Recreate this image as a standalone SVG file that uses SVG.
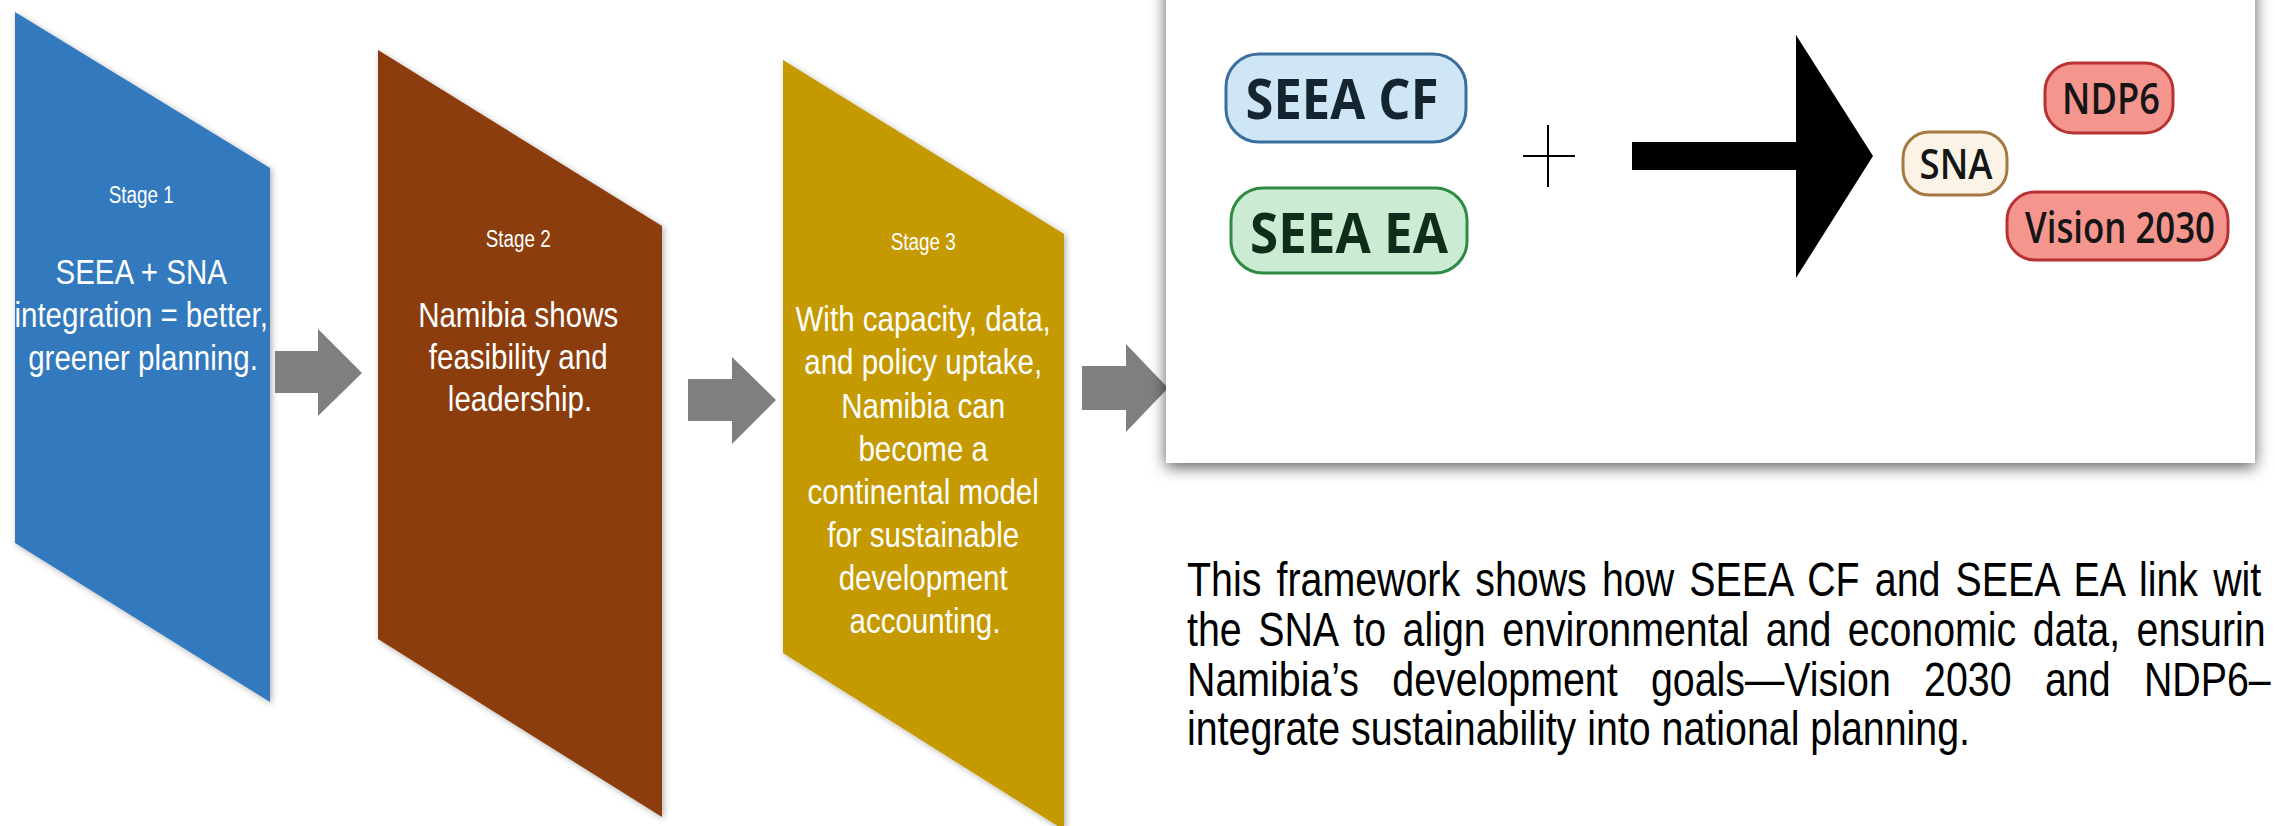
<svg xmlns="http://www.w3.org/2000/svg" width="2275" height="826" viewBox="0 0 2275 826">
  <defs>
    <filter id="stageShadow" x="-10%" y="-10%" width="120%" height="120%">
      <feDropShadow dx="2" dy="2" stdDeviation="3" flood-color="#000" flood-opacity="0.3"/>
    </filter>
    <filter id="boxShadow" x="-5%" y="-10%" width="110%" height="125%">
      <feDropShadow dx="0" dy="4" stdDeviation="8" flood-color="#000" flood-opacity="0.65"/>
    </filter>
    <style>
      .stxt { font-family: "Liberation Sans", Arial, sans-serif; fill: #ffffff; text-anchor: middle; }
      .lbl { font-size: 23px; }
      .body { font-size: 36px; }
      .pill-t { font-family: "Open Sans", "Liberation Sans", sans-serif; text-anchor: middle; }
      .para { font-family: "Liberation Sans", Arial, sans-serif; font-size: 48px; fill: #000000; }
      .garrow { fill: #7f7f7f; }
    </style>
  </defs>
  <rect x="0" y="0" width="2275" height="826" fill="#ffffff"/>

  <g id="stage1">
    <polygon points="15,12 270,168 270,702 15,543" fill="#3179bd" filter="url(#stageShadow)"/>
    <text class="stxt" transform="translate(143,0) scale(0.82,1)">
      <tspan class="lbl" x="0" y="203">Stage 1</tspan>
      <tspan class="body" x="0" y="284">SEEA + SNA</tspan>
      <tspan class="body" x="0" y="327">integration = better,</tspan>
      <tspan class="body" x="0" y="370">greener planning.</tspan>
    </text>
  </g>

  <g id="stage2">
    <polygon points="378,50 662,226 662,817 378,639" fill="#8b3d0d" filter="url(#stageShadow)"/>
    <text class="stxt" transform="translate(520,0) scale(0.82,1)">
      <tspan class="lbl" x="0" y="247">Stage 2</tspan>
      <tspan class="body" x="0" y="327">Namibia shows</tspan>
      <tspan class="body" x="0" y="369">feasibility and</tspan>
      <tspan class="body" x="0" y="411">leadership.</tspan>
    </text>
  </g>

  <g id="stage3">
    <polygon points="783,60 1064,234 1064,830 783,653" fill="#c59a00" filter="url(#stageShadow)"/>
    <text class="stxt" transform="translate(925,0) scale(0.82,1)">
      <tspan class="lbl" x="0" y="250">Stage 3</tspan>
      <tspan class="body" x="0" y="331">With capacity, data,</tspan>
      <tspan class="body" x="0" y="374">and policy uptake,</tspan>
      <tspan class="body" x="0" y="418">Namibia can</tspan>
      <tspan class="body" x="0" y="461">become a</tspan>
      <tspan class="body" x="0" y="504">continental model</tspan>
      <tspan class="body" x="0" y="547">for sustainable</tspan>
      <tspan class="body" x="0" y="590">development</tspan>
      <tspan class="body" x="0" y="633">accounting.</tspan>
    </text>
  </g>

  <g id="connectors">
    <polygon class="garrow" points="275,351 318,351 318,329 362,373 318,416 318,393 275,393"/>
    <polygon class="garrow" points="688,379 732,379 732,357 776,400 732,444 732,421 688,421"/>
    <polygon class="garrow" points="1082,366 1126,366 1126,344 1168,388 1126,432 1126,410 1082,410"/>
  </g>

  <g id="framework-picture">
    <rect x="1166" y="-20" width="1089" height="483" fill="#ffffff" filter="url(#boxShadow)"/>

    <g id="seea-cf">
      <rect x="1226" y="54" width="240" height="88" rx="33" fill="#cfe6f7" stroke="#3b6e9c" stroke-width="3"/>
      <text class="pill-t" x="1342" y="119" font-size="56" font-weight="700" fill="#152530" textLength="193" lengthAdjust="spacingAndGlyphs">SEEA CF</text>
    </g>
    <g id="seea-ea">
      <rect x="1231" y="188" width="236" height="85" rx="32" fill="#cbecd3" stroke="#2f8a44" stroke-width="3"/>
      <text class="pill-t" x="1349" y="253" font-size="56" font-weight="700" fill="#0f2d1a" textLength="198" lengthAdjust="spacingAndGlyphs">SEEA EA</text>
    </g>

    <g id="plus">
      <line x1="1523" y1="156" x2="1575" y2="156" stroke="#000" stroke-width="2"/>
      <line x1="1548" y1="125" x2="1548" y2="187" stroke="#000" stroke-width="2"/>
    </g>

    <g id="big-arrow">
      <polygon points="1632,142 1796,142 1796,35 1873,156 1796,278 1796,170 1632,170" fill="#000000"/>
    </g>

    <g id="sna">
      <rect x="1903" y="132" width="104" height="63" rx="26" fill="#fbf4e6" stroke="#a57942" stroke-width="3"/>
      <text class="pill-t" x="1956" y="179" font-size="41" font-weight="600" fill="#151515" textLength="73" lengthAdjust="spacingAndGlyphs">SNA</text>
    </g>
    <g id="ndp6">
      <rect x="2045" y="63" width="128" height="70" rx="28" fill="#f4968e" stroke="#b83232" stroke-width="3"/>
      <text class="pill-t" x="2111" y="114" font-size="43" font-weight="600" fill="#151515" textLength="98" lengthAdjust="spacingAndGlyphs">NDP6</text>
    </g>
    <g id="vision2030">
      <rect x="2007" y="192" width="221" height="68" rx="28" fill="#f4968e" stroke="#b83232" stroke-width="3"/>
      <text class="pill-t" x="2120" y="243" font-size="43" font-weight="600" fill="#151515" textLength="190" lengthAdjust="spacingAndGlyphs">Vision 2030</text>
    </g>
  </g>

  <g id="description">
    <text class="para" transform="translate(1187,0) scale(0.82,1)">
      <tspan x="0" y="596" style="word-spacing:5.14px">This framework shows how SEEA CF and SEEA EA link wit</tspan>
      <tspan x="0" y="646" style="word-spacing:6.73px">the SNA to align environmental and economic data, ensurin</tspan>
      <tspan x="0" y="696" style="word-spacing:27.3px">Namibia’s development goals—Vision 2030 and NDP6–</tspan>
      <tspan x="0" y="745">integrate sustainability into national planning.</tspan>
    </text>
  </g>
</svg>
